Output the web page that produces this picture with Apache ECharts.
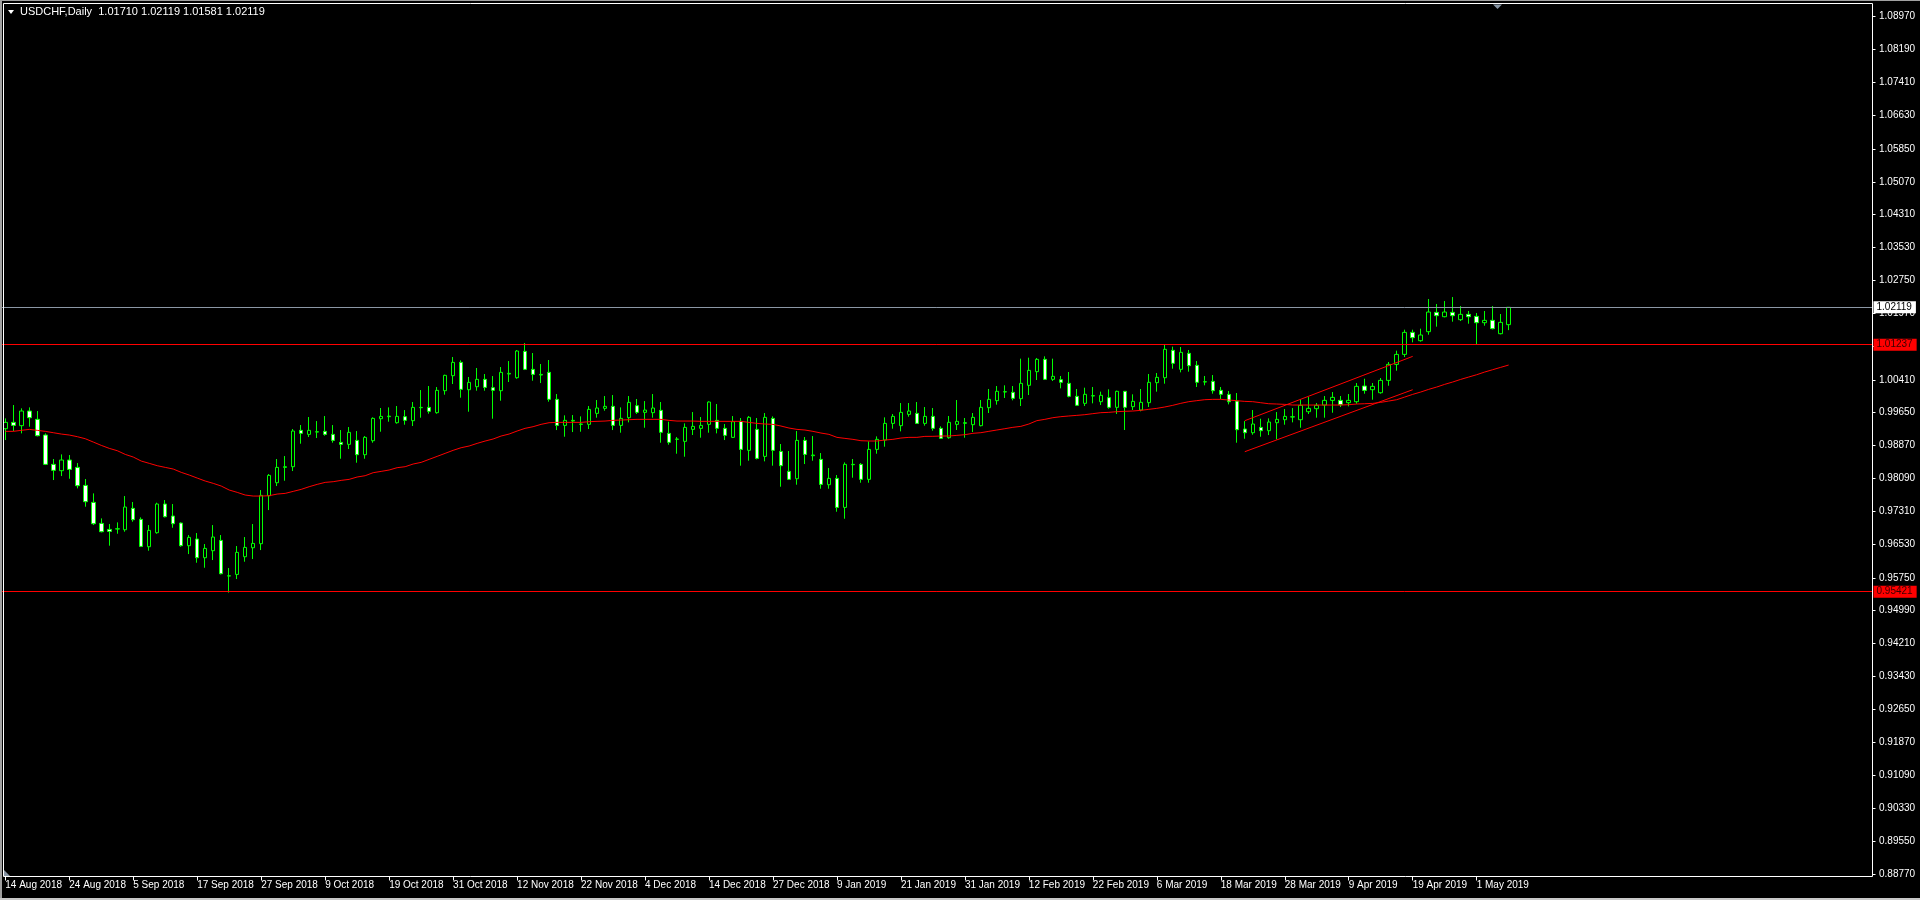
<!DOCTYPE html>
<html><head><meta charset="utf-8">
<script src="https://cdn.jsdelivr.net/npm/echarts@6/dist/echarts.min.js"></script>
<style>html,body{margin:0;padding:0;background:#000;}#c{width:1920px;height:900px;}</style>
</head><body><div id="c"></div>
<script>
const symbolName = 'USDCHF,Daily';
const dateTicks = ['14 Aug 2018','24 Aug 2018','5 Sep 2018','17 Sep 2018','27 Sep 2018','9 Oct 2018','19 Oct 2018','31 Oct 2018','12 Nov 2018','22 Nov 2018','4 Dec 2018','14 Dec 2018','27 Dec 2018','9 Jan 2019','21 Jan 2019','31 Jan 2019','12 Feb 2019','22 Feb 2019','6 Mar 2019','18 Mar 2019','28 Mar 2019','9 Apr 2019','19 Apr 2019','1 May 2019'];
const priceTicks = [1.08970,1.08190,1.07410,1.06630,1.05850,1.05070,1.04310,1.03530,1.02750,1.01970,1.01190,1.00410,0.99650,0.98870,0.98090,0.97310,0.96530,0.95750,0.94990,0.94210,0.93430,0.92650,0.91870,0.91090,0.90330,0.89550,0.88770];
const open = [
0.99260,0.99409,0.99331,0.99676,0.99480,0.99111,0.98420,0.98271,0.98522,0.98349,
0.97925,0.97525,0.97030,0.96889,0.96897,0.96881,0.97384,0.97125,0.96481,0.96811,
0.97486,0.97203,0.97038,0.96505,0.96662,0.96222,0.96387,0.96630,0.95790,0.95829,
0.96245,0.96457,0.96552,0.97682,0.97988,0.98349,0.98365,0.99221,0.99126,0.99181,
0.99197,0.99126,0.98938,0.98891,0.98985,0.98648,0.98977,0.99495,0.99543,0.99401,
0.99543,0.99448,0.99754,0.99762,0.99637,1.00155,1.00508,1.00822,1.00178,1.00249,
1.00422,1.00225,1.00155,1.00547,1.00461,1.01081,1.00657,1.00524,1.00587,0.99951,
0.99338,0.99440,0.99362,0.99362,0.99621,0.99739,0.99786,0.99338,0.99519,0.99802,
0.99645,0.99637,0.99692,0.99150,0.99009,0.98962,0.99244,0.99268,0.99362,0.99456,
0.99268,0.99056,0.99433,0.98750,0.99244,0.98608,0.99503,0.98726,0.98255,0.98082,
0.98985,0.98624,0.98538,0.97941,0.98090,0.97407,0.98412,0.98420,0.98067,0.98773,
0.98993,0.99385,0.99331,0.99597,0.99621,0.99385,0.99550,0.99268,0.99048,0.99362,
0.99386,0.99355,0.99331,0.99755,0.99920,1.00124,1.00116,0.99967,1.00281,1.00603,
1.00893,1.00422,1.00414,1.00328,1.00022,0.99857,1.00030,0.99896,0.99991,0.99763,
1.00140,0.99779,0.99700,0.99873,1.00344,1.00461,1.01105,1.00658,1.01034,1.00752,
1.00359,1.00375,1.00163,1.00068,0.99911,0.99252,0.99165,0.99291,0.99213,0.99401,
0.99472,0.99534,0.99472,0.99660,0.99731,0.99817,0.99927,0.99927,0.99872,0.99895,
1.00265,1.00178,1.00107,1.00398,1.00775,1.01010,1.01528,1.01332,1.01544,1.01999,
1.01897,1.01999,1.01827,1.01952,1.01905,1.01756,1.01811,1.01497,1.01710];
const high = [
0.99503,0.99817,0.99739,0.99762,0.99676,0.99150,0.98546,0.98655,0.98640,0.98451,
0.98075,0.97737,0.97148,0.97015,0.97054,0.97674,0.97533,0.97172,0.96991,0.97517,
0.97580,0.97486,0.97054,0.96756,0.96803,0.96544,0.96991,0.96756,0.95979,0.96497,
0.96709,0.97015,0.97815,0.98192,0.98546,0.98616,0.99252,0.99346,0.99535,0.99440,
0.99558,0.99346,0.99228,0.99299,0.99205,0.99087,0.99527,0.99747,0.99762,0.99794,
0.99699,0.99888,1.00170,1.00265,1.00241,1.00532,1.00948,1.00869,1.00477,1.00689,
1.00547,1.00500,1.00712,1.00853,1.01112,1.01277,1.01042,1.00783,1.00877,1.00076,
0.99574,0.99582,0.99550,0.99794,0.99935,1.00029,1.00053,0.99762,1.00029,0.99959,
0.99911,1.00076,0.99888,0.99425,0.99064,0.99385,0.99652,0.99535,0.99904,0.99841,
0.99370,0.99558,0.99511,0.99558,0.99511,0.99629,0.99550,0.98899,0.98734,0.99205,
0.99064,0.99087,0.98687,0.98334,0.98169,0.98467,0.98546,0.98451,0.98962,0.99079,
0.99527,0.99605,0.99864,0.99864,0.99888,0.99770,0.99747,0.99315,0.99559,0.99935,
0.99512,0.99629,0.99935,1.00195,1.00265,1.00281,1.00265,1.00909,1.00932,1.00925,
1.00964,1.00909,1.00501,1.00595,1.00195,1.00226,1.00242,1.00132,1.00187,1.00155,
1.00148,1.00069,1.00195,1.00548,1.00571,1.01231,1.01192,1.01184,1.01113,1.00854,
1.00501,1.00524,1.00242,1.00147,1.00100,0.99440,0.99699,0.99495,0.99503,0.99652,
0.99723,0.99746,0.99950,1.00005,0.99864,1.00029,1.00123,1.00029,1.00076,1.00335,
1.00437,1.00335,1.00453,1.00830,1.01097,1.01591,1.01591,1.01615,1.02313,1.02196,
1.02266,1.02360,1.02148,1.02031,1.01984,1.02031,1.02148,1.01960,1.02119];
const low = [
0.98993,0.99205,0.99150,0.99307,0.99079,0.98404,0.98051,0.98145,0.98082,0.97855,
0.97423,0.96991,0.96819,0.96505,0.96787,0.96834,0.97070,0.96473,0.96387,0.96787,
0.97172,0.96928,0.96481,0.96308,0.96104,0.95986,0.96167,0.95829,0.95400,0.95720,
0.96128,0.96191,0.96402,0.97344,0.97910,0.98035,0.98263,0.98907,0.99064,0.99040,
0.99095,0.98930,0.98553,0.98781,0.98459,0.98553,0.98930,0.99189,0.99425,0.99378,
0.99354,0.99323,0.99519,0.99613,0.99613,1.00061,1.00312,0.99990,0.99660,1.00155,
1.00155,0.99495,0.99919,1.00359,1.00437,1.00641,1.00390,1.00335,0.99896,0.99228,
0.99071,0.99181,0.99189,0.99252,0.99519,0.99684,0.99228,0.99166,0.99409,0.99606,
0.99283,0.99519,0.98930,0.98883,0.98671,0.98600,0.99111,0.99048,0.99166,0.99150,
0.98993,0.99040,0.98389,0.98506,0.98538,0.98491,0.98389,0.97894,0.98051,0.97941,
0.98428,0.98506,0.97847,0.97847,0.97305,0.97140,0.98106,0.97988,0.97988,0.98671,
0.98836,0.99260,0.99197,0.99542,0.99378,0.99331,0.99213,0.99017,0.99025,0.99229,
0.99048,0.99182,0.99315,0.99629,0.99826,0.99983,0.99928,0.99794,1.00053,1.00406,
1.00406,1.00383,1.00210,0.99998,0.99794,0.99794,0.99857,0.99818,0.99731,0.99606,
0.99229,0.99700,0.99669,0.99771,1.00132,1.00320,1.00673,1.00587,1.00603,1.00242,
1.00281,1.00085,0.99959,0.99833,0.98930,0.99024,0.99118,0.99071,0.99110,0.99009,
0.99354,0.99409,0.99283,0.99605,0.99519,0.99519,0.99636,0.99770,0.99786,0.99848,
1.00084,0.99943,1.00084,1.00272,1.00626,1.00947,1.01293,1.01309,1.01473,1.01662,
1.01882,1.01780,1.01795,1.01732,1.01246,1.01685,1.01599,1.01481,1.01581];
const close = [
0.99409,0.99338,0.99676,0.99519,0.99095,0.98420,0.98279,0.98522,0.98302,0.97918,
0.97541,0.97023,0.96834,0.96842,0.96905,0.97415,0.97117,0.96489,0.96866,0.97486,
0.97187,0.97023,0.96505,0.96701,0.96222,0.96442,0.96709,0.95845,0.95798,0.96348,
0.96465,0.96559,0.97690,0.98161,0.98349,0.98365,0.99205,0.99150,0.99221,0.99189,
0.99126,0.98985,0.98891,0.99174,0.98648,0.99056,0.99503,0.99550,0.99556,0.99550,
0.99456,0.99762,0.99762,0.99668,1.00163,1.00516,1.00822,1.00186,1.00351,1.00422,
1.00233,1.00163,1.00587,1.00563,1.01089,1.00657,1.00539,1.00539,0.99951,0.99338,
0.99456,0.99456,0.99370,0.99715,0.99747,0.99786,0.99338,0.99503,0.99880,0.99645,
0.99699,0.99747,0.99174,0.98938,0.99017,0.99291,0.99315,0.99338,0.99888,0.99268,
0.99103,0.99425,0.98773,0.99527,0.98561,0.99527,0.98750,0.98389,0.98067,0.98985,
0.98655,0.98640,0.97949,0.98090,0.97407,0.98420,0.98420,0.98067,0.98773,0.99009,
0.99385,0.99550,0.99645,0.99676,0.99385,0.99550,0.99268,0.99033,0.99410,0.99433,
0.99402,0.99527,0.99763,0.99951,1.00140,1.00132,0.99975,1.00328,1.00634,1.00893,
1.00422,1.00493,1.00352,1.00022,0.99810,1.00069,1.00038,1.00046,0.99763,1.00140,
0.99763,0.99904,0.99881,1.00352,1.00469,1.01129,1.00799,1.01058,1.00744,1.00352,
1.00367,1.00155,1.00069,0.99895,0.99236,0.99165,0.99370,0.99213,0.99417,0.99480,
0.99550,0.99542,0.99809,0.99739,0.99809,0.99927,0.99998,0.99825,0.99927,1.00257,
1.00162,1.00257,1.00398,1.00775,1.01010,1.01528,1.01403,1.01466,1.02007,1.01921,
1.02007,1.01921,1.01952,1.01897,1.01756,1.01811,1.01615,1.01764,1.02119];
const maLine = [
0.99197,0.99197,0.99221,0.99244,0.99221,0.99197,0.99166,0.99134,0.99111,0.99072,
0.99024,0.98946,0.98867,0.98797,0.98742,0.98655,0.98593,0.98498,0.98444,0.98389,
0.98349,0.98310,0.98232,0.98169,0.98098,0.98028,0.97973,0.97910,0.97816,0.97761,
0.97698,0.97674,0.97674,0.97682,0.97721,0.97737,0.97784,0.97831,0.97894,0.97949,
0.97996,0.98012,0.98043,0.98067,0.98122,0.98153,0.98224,0.98255,0.98287,0.98342,
0.98365,0.98428,0.98467,0.98538,0.98608,0.98679,0.98750,0.98812,0.98852,0.98914,
0.98969,0.99017,0.99087,0.99134,0.99205,0.99268,0.99307,0.99362,0.99401,0.99409,
0.99409,0.99409,0.99409,0.99425,0.99433,0.99440,0.99456,0.99464,0.99472,0.99480,
0.99480,0.99480,0.99480,0.99456,0.99440,0.99440,0.99440,0.99433,0.99433,0.99433,
0.99433,0.99433,0.99433,0.99409,0.99385,0.99370,0.99362,0.99323,0.99276,0.99244,
0.99229,0.99197,0.99158,0.99127,0.99056,0.99032,0.99009,0.98977,0.98970,0.98970,
0.98993,0.99009,0.99040,0.99056,0.99056,0.99079,0.99080,0.99088,0.99088,0.99103,
0.99119,0.99151,0.99166,0.99198,0.99229,0.99260,0.99292,0.99315,0.99370,0.99449,
0.99480,0.99519,0.99543,0.99559,0.99574,0.99590,0.99614,0.99637,0.99645,0.99661,
0.99669,0.99676,0.99692,0.99716,0.99739,0.99771,0.99810,0.99857,0.99896,0.99920,
0.99943,0.99951,0.99951,0.99935,0.99919,0.99903,0.99896,0.99872,0.99848,0.99841,
0.99833,0.99817,0.99817,0.99817,0.99817,0.99817,0.99817,0.99817,0.99825,0.99841,
0.99848,0.99856,0.99880,0.99911,0.99943,1.00005,1.00068,1.00123,1.00186,1.00241,
1.00304,1.00359,1.00421,1.00476,1.00531,1.00594,1.00649,1.00704,1.00759];
const bidPrice = 1.02119;
const levelLines = [1.01237, 0.95421];
const channelUpper = [[155, 0.99448], [176, 1.00963]];
const channelLower = [[155, 0.98718], [176, 1.00178]];
const totalSlots = 234;
const barsPerDateTick = 8;

const FONT = 'Liberation Sans';
const cats = Array.from({length: totalSlots}, (_, i) => String(i));
const candles = open.map((o, i) => [o, close[i], low[i], high[i]]);
const last = open.length - 1;
const headerText = symbolName + '  ' + [open[last], high[last], low[last], close[last]].map(v => v.toFixed(5)).join(' ');
const isDateTick = (idx) => idx % barsPerDateTick === 0 && idx / barsPerDateTick < dateTicks.length;

const chart = echarts.init(document.getElementById('c'), null, {renderer: 'canvas'});
chart.setOption({
  backgroundColor: '#000000',
  animation: false,
  grid: {left: 1.3, right: 47.5, top: 4, bottom: 23.5, containLabel: false},
  xAxis: {
    type: 'category', data: cats, boundaryGap: true,
    axisLine: {show: false},
    axisTick: {show: true, alignWithLabel: true, length: 4, interval: (i) => isDateTick(i), lineStyle: {color: '#ffffff', width: 1}},
    axisLabel: {show: true, interval: (i) => isDateTick(i), formatter: (v, i) => isDateTick(i) ? dateTicks[i / barsPerDateTick] : '',
      align: 'left', margin: 4, color: '#ffffff', fontFamily: FONT, fontSize: 10},
    splitLine: {show: false}
  },
  yAxis: {
    type: 'value', position: 'right', min: 0.88716, max: 1.09260, scale: true,
    axisLine: {show: false},
    axisTick: {show: true, length: 3, customValues: priceTicks, lineStyle: {color: '#ffffff'}},
    axisLabel: {show: true, customValues: priceTicks, formatter: v => v.toFixed(5), margin: 6.5, color: '#ffffff', fontFamily: FONT, fontSize: 10},
    splitLine: {show: false}
  },
  series: [
    {
      type: 'candlestick', data: candles, barWidth: 4, z: 3,
      itemStyle: {color: '#000000', color0: '#ffffff', borderColor: '#00ff00', borderColor0: '#00ff00', borderColorDoji: '#00ff00', borderWidth: 1},
      markLine: {
        silent: true, symbol: ['none', 'none'], animation: false, precision: 5,
        label: {show: true, position: 'end', distance: 1, fontFamily: FONT, fontSize: 10, padding: [1, 4, 1, 3], formatter: p => Number(p.value).toFixed(5)},
        data: [
          {yAxis: bidPrice, lineStyle: {color: '#8b97a5', width: 1, type: 'solid'}, label: {backgroundColor: '#ffffff', color: '#000000'}},
          {yAxis: levelLines[0], lineStyle: {color: '#ff0000', width: 1, type: 'solid'}, label: {backgroundColor: '#ff0000', color: '#3a0000'}},
          {yAxis: levelLines[1], lineStyle: {color: '#ff0000', width: 1, type: 'solid'}, label: {backgroundColor: '#ff0000', color: '#3a0000'}}
        ]
      }
    },
    {type: 'line', data: maLine, showSymbol: false, symbol: 'none', z: 4, lineStyle: {color: '#ff0000', width: 1}, silent: true},
    {type: 'line', data: channelUpper, showSymbol: false, symbol: 'none', z: 4, lineStyle: {color: '#ff0000', width: 1}, silent: true},
    {type: 'line', data: channelLower, showSymbol: false, symbol: 'none', z: 4, lineStyle: {color: '#ff0000', width: 1}, silent: true}
  ],
  graphic: [
    {type: 'rect', z: 100, silent: true, shape: {x: 0, y: 0, width: 1920, height: 1}, style: {fill: '#a0a0a0'}},
    {type: 'rect', z: 100, silent: true, shape: {x: 0, y: 0, width: 2, height: 900}, style: {fill: '#a0a0a0'}},
    {type: 'rect', z: 100, silent: true, shape: {x: 0, y: 898, width: 1920, height: 2}, style: {fill: '#c8c8c8'}},
    {type: 'rect', z: 100, silent: true, shape: {x: 3.5, y: 3.5, width: 1869, height: 873}, style: {fill: null, stroke: '#ffffff', lineWidth: 1}},
    {type: 'polygon', z: 100, silent: true, shape: {points: [[1493, 4.5], [1502, 4.5], [1497.5, 9]]}, style: {fill: '#8794a3'}},
    {type: 'polygon', z: 100, silent: true, shape: {points: [[4, 870], [4, 876], [10, 876]]}, style: {fill: '#8794a3'}},
    {type: 'polygon', z: 100, silent: true, shape: {points: [[8, 10], [14, 10], [11, 14]]}, style: {fill: '#ffffff'}},
    {type: 'text', z: 100, silent: true, left: 20, top: 6, style: {text: headerText, fill: '#ffffff', font: '11px "Liberation Sans"'}}
  ]
});
</script></body></html>
